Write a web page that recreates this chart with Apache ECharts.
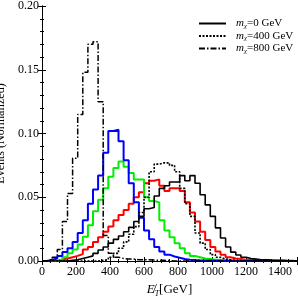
<!DOCTYPE html>
<html><head><meta charset="utf-8">
<script src="https://cdn.jsdelivr.net/npm/echarts@6/dist/echarts.min.js"></script>
<style>html,body{margin:0;padding:0;background:#fff}#c{width:298px;height:296px}</style>
</head><body><div id="c"></div>
<script>
// bin width in GeV (50 bins, 0-1500 GeV)
const binWidth = 30;
const xTicks = [0, 200, 400, 600, 800, 1000, 1200, 1400];
const yTicks = [0.00, 0.05, 0.10, 0.15, 0.20];
const legendNames = ['0', '400', '800'];

// black solid, m_chi = 0 GeV
const mx0 = [0,0,0,0,0,0.0005,0.001,0.002,0.003,0.004,0.006,0.0086,0.011,0.014,0.017,0.0196,0.023,0.0264,0.031,0.035,
  0.041,0.042,0.051,0.057,0.059,0.062,0.062,0.067,0.063,0.067,0.061,0.052,0.044,0.035,0.026,0.018,0.011,0.007,0.0047,0.003,
  0.002,0.0015,0.001,0.001,0.0007,0.0005,0.0005,0.0003,0.0002,0.0001];
// black dotted, m_chi = 400 GeV
const mx400 = [0,0,0,0,0,0,0,0,0,0,0,0.0005,0.001,0.003,0.006,0.010,0.015,0.021,0.027,0.038,
  0.050,0.070,0.076,0.077,0.077,0.075,0.070,0.057,0.045,0.035,0.022,0.014,0.009,0.005,0.003,0.0015,0.001,0.0005,0,0,
  0,0,0,0,0,0,0,0,0,0];
// black dash-dot, m_chi = 800 GeV
const mx800 = [0,0.001,0.003,0.009,0.031,0.053,0.0805,0.115,0.148,0.170,0.172,0.125,0.020,0.006,0.003,0.002,0.0015,0.0015,0.001,0.001,
  0.001,0.0007,0.0005,0.0005,0.0003,0,0,0,0,0,0,0,0,0,0,0,0,0,0,0,0,0,0,0,0,0,0,0,0,0];
// blue
const blue = [0,0.001,0.002,0.004,0.007,0.010,0.015,0.022,0.032,0.045,0.056,0.067,0.085,0.102,0.103,0.094,0.079,0.061,0.046,0.034,
  0.024,0.017,0.011,0.0075,0.005,0.0035,0.0025,0.0015,0.001,0.0007,0.0005,0.0004,0.0003,0.0002,0.0001,0,0,0,0,0,
  0,0,0,0,0,0,0,0,0,0];
// green
const green = [0,0,0,0.001,0.003,0.006,0.009,0.013,0.019,0.028,0.039,0.048,0.057,0.066,0.073,0.078,0.074,0.069,0.064,0.064,
  0.050,0.047,0.046,0.032,0.024,0.0186,0.014,0.010,0.006,0.004,0.003,0.002,0.0015,0.001,0.001,0.0005,0.0005,0.0003,0.0002,0.0001,
  0,0,0,0,0,0,0,0,0,0];
// red
const red = [0,0,0,0.001,0.002,0.003,0.004,0.0055,0.009,0.011,0.015,0.0186,0.023,0.027,0.032,0.036,0.040,0.045,0.050,0.054,
  0.061,0.063,0.064,0.059,0.055,0.057,0.057,0.055,0.046,0.038,0.031,0.023,0.0165,0.011,0.0075,0.005,0.003,0.002,0.0015,0.001,
  0.001,0.0007,0.0005,0.0004,0.0003,0.0002,0.0002,0.0001,0.0001,0];

function steps(vals){
  const pts = vals.map((v,i)=>[i*binWidth, v]);
  pts.push([vals.length*binWidth, vals[vals.length-1]]);
  return pts;
}
const serif = 'Liberation Serif';
const chart = echarts.init(document.getElementById('c'), null, {renderer:'canvas'});
const axisCommon = {
  axisLine:{show:true, lineStyle:{color:'#000', width:1}},
  splitLine:{show:false},
  axisTick:{show:true, inside:true, length:4, lineStyle:{color:'#000', width:1}},
};
const legendMap = {mx0:'0', mx400:'400', mx800:'800'};
function mk(name, data, color, width, type, z){
  return {name, type:'line', data:steps(data), step:'end', symbol:'none', showSymbol:false, z,
    lineStyle:{color, width, type}, itemStyle:{color}, xAxisIndex:0, yAxisIndex:0, animation:false};
}
chart.setOption({
  animation:false,
  grid:{left:42, right:1, top:6, bottom:35, containLabel:false, outerBoundsMode:'none'},
  xAxis:[
    Object.assign({type:'value', min:0, max:1500, interval:200, position:'bottom',
      axisLabel:{fontFamily:serif, fontSize:12, color:'#000', margin:5, showMaxLabel:false, formatter:v=>String(v)},
      name:'{e|E̸}{s|T}{t|[GeV]}', nameLocation:'middle', nameGap:20,
      nameTextStyle:{fontFamily:serif, fontSize:13, color:'#000',
        rich:{e:{fontFamily:serif,fontSize:13,fontStyle:'italic',color:'#000',lineHeight:16,verticalAlign:'middle'},
              s:{fontFamily:serif,fontSize:8,fontStyle:'italic',color:'#000',lineHeight:16,verticalAlign:'bottom'},
              t:{fontFamily:serif,fontSize:13,color:'#000',lineHeight:16,verticalAlign:'middle'}}}
    }, axisCommon, {minorTick:{show:true, splitNumber:4, length:2, lineStyle:{color:'#000'}}}),
    Object.assign({type:'value', min:0, max:1500, interval:200, position:'top',
      axisLabel:{show:false}}, axisCommon, {minorTick:{show:true, splitNumber:4, length:2, lineStyle:{color:'#000'}}})
  ],
  yAxis:[
    Object.assign({type:'value', min:0, max:0.2, interval:0.05, position:'left',
      axisLabel:{fontFamily:serif, fontSize:12, color:'#000', margin:3, formatter:v=>v.toFixed(2)},
      name:'Events (Normalized)', nameLocation:'middle', nameGap:35, nameMoveOverlap:false,
      nameTextStyle:{fontFamily:serif, fontSize:12, color:'#000'}
    }, axisCommon, {minorTick:{show:true, splitNumber:5, length:2, lineStyle:{color:'#000'}}}),
    Object.assign({type:'value', min:0, max:0.2, interval:0.05, position:'right',
      axisLabel:{show:false}}, axisCommon, {minorTick:{show:true, splitNumber:5, length:2, lineStyle:{color:'#000'}}})
  ],
  legend:{
    data:['mx0','mx400','mx800'], orient:'vertical', left:193, top:13, itemWidth:27, itemHeight:10, itemGap:1,
    itemStyle:{color:'rgba(0,0,0,0)', borderWidth:0, opacity:0},
    formatter:n=>'{m|m}{s|χ}{t|='+legendMap[n]+' GeV}',
    textStyle:{fontFamily:serif, fontSize:11, color:'#000',
      rich:{m:{fontFamily:serif,fontSize:11,fontStyle:'italic',color:'#000',lineHeight:12,verticalAlign:'middle',padding:[0,0,0,5]},
            s:{fontFamily:serif,fontSize:7,fontStyle:'italic',color:'#000',lineHeight:12,verticalAlign:'bottom'},
            t:{fontFamily:serif,fontSize:11,color:'#000',lineHeight:12,verticalAlign:'middle'}}}
  },
  series:[
    mk('mx800', mx800, '#000', 1.5, [6,2,1.5,2], 3),
    mk('mx400', mx400, '#000', 1.6, [2,1.5], 3),
    mk('mx0', mx0, '#000', 1.6, 'solid', 3),
    mk('red', red, '#ff0000', 2, 'solid', 2),
    mk('green', green, '#00ee00', 2, 'solid', 2),
    mk('blue', blue, '#0000ff', 2, 'solid', 2)
  ]
});
</script></body></html>
